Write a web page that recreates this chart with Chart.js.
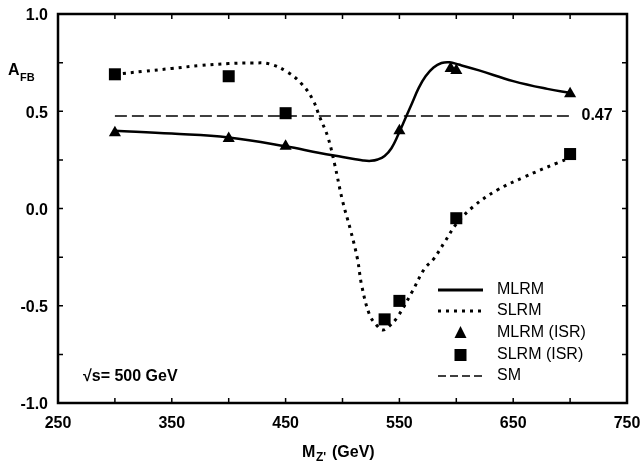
<!DOCTYPE html>
<html>
<head>
<meta charset="utf-8">
<script src="https://cdn.jsdelivr.net/npm/chart.js@4"></script>
<style>
  body { margin: 0; background: #fff; }
  #wrap { width: 641px; height: 462px; }
</style>
</head>
<body>
<div id="wrap"><canvas id="grafico" width="641" height="462"></canvas></div>
<script>
// curvas (M_Z' em GeV, A_FB)
const mlrmX = [300, 350, 400, 450, 480, 500, 510, 518, 525, 531, 537, 543, 549, 555, 561, 567, 573, 580, 587, 594, 602, 620, 650, 680, 700];
const mlrmY = [0.40, 0.385, 0.365, 0.32, 0.285, 0.265, 0.255, 0.247, 0.245, 0.252, 0.27, 0.31, 0.38, 0.46, 0.54, 0.62, 0.68, 0.725, 0.748, 0.752, 0.74, 0.71, 0.655, 0.615, 0.595];

const slrmX = [300, 325, 350, 375, 400, 420, 436, 452, 465, 474, 480, 487, 493, 500, 507, 513, 517, 524, 530, 535, 540, 548, 561, 572, 580, 590, 600, 615, 636, 659, 689, 700];
const slrmY = [0.69, 0.705, 0.72, 0.735, 0.745, 0.748, 0.743, 0.70, 0.635, 0.558, 0.47, 0.37, 0.23, 0.04, -0.11, -0.255, -0.40, -0.55, -0.60, -0.625, -0.61, -0.56, -0.43, -0.31, -0.26, -0.17, -0.08, 0.01, 0.095, 0.16, 0.235, 0.26];

// pontos com ISR
const mlrmIsrX = [300, 400, 450, 550, 595, 600, 700];
const mlrmIsrY = [0.39, 0.36, 0.32, 0.40, 0.72, 0.71, 0.59];
const slrmIsrX = [300, 400, 450, 537, 550, 600, 700];
const slrmIsrY = [0.69, 0.68, 0.49, -0.57, -0.475, -0.05, 0.28];

// SM
const smX = [300, 700];
const smValue = 0.475;
const smLabel = "0.47";

const legendLabels = ["MLRM", "SLRM", "MLRM (ISR)", "SLRM (ISR)", "SM"];

const fonte = '"Liberation Sans", Arial, Helvetica, sans-serif';

function pares(xs, ys) {
  return xs.map((x, i) => ({ x: x, y: ys[i] }));
}

// moldura, ticks internos, títulos e legenda
const extras = {
  id: "extras",
  afterDatasetsDraw(chart) {
    const c = chart.ctx;
    const a = chart.chartArea;
    const sx = chart.scales.x;
    const sy = chart.scales.y;
    c.save();
    c.strokeStyle = "#000";
    c.lineWidth = 1.5;
    c.setLineDash([]);
    // ticks
    sx.ticks.forEach(t => {
      const px = sx.getPixelForValue(t.value);
      c.beginPath();
      c.moveTo(px, a.bottom); c.lineTo(px, a.bottom - 5);
      c.moveTo(px, a.top); c.lineTo(px, a.top + 5);
      c.stroke();
    });
    sy.ticks.forEach(t => {
      const py = sy.getPixelForValue(t.value);
      c.beginPath();
      c.moveTo(a.left, py); c.lineTo(a.left + 5, py);
      c.moveTo(a.right, py); c.lineTo(a.right - 5, py);
      c.stroke();
    });
    // moldura
    c.lineWidth = 2.5;
    c.strokeRect(a.left, a.top, a.right - a.left, a.bottom - a.top);

    c.fillStyle = "#000";
    // rótulo SM
    c.font = "bold 16px " + fonte;
    c.textAlign = "left";
    c.textBaseline = "middle";
    c.fillText(smLabel, sx.getPixelForValue(710), sy.getPixelForValue(smValue) - 1);

    // sqrt(s)
    c.fillText("\u221As= 500 GeV", 83, 377);

    // eixo y: A_FB
    c.textBaseline = "alphabetic";
    c.fillText("A", 8, 75);
    c.font = "bold 11px " + fonte;
    c.fillText("FB", 20, 81);

    // eixo x: M_Z' (GeV)
    c.font = "bold 16px " + fonte;
    c.fillText("M", 302, 457);
    c.font = "bold 12px " + fonte;
    c.fillText("Z'", 316, 461);
    c.font = "bold 16px " + fonte;
    c.fillText("(GeV)", 332, 457);

    // legenda
    const lx0 = 438, lx1 = 483, tx = 497;
    const ly = [290, 311, 333, 355, 376];
    c.lineCap = "butt";
    c.lineWidth = 3;
    c.beginPath(); c.moveTo(lx0, ly[0]); c.lineTo(lx1, ly[0]); c.stroke();
    c.setLineDash([3, 5]);
    c.beginPath(); c.moveTo(lx0, ly[1]); c.lineTo(lx1, ly[1]); c.stroke();
    c.setLineDash([8, 4]);
    c.lineWidth = 1.5;
    c.beginPath(); c.moveTo(lx0, ly[4]); c.lineTo(lx1, ly[4]); c.stroke();
    c.setLineDash([]);
    const mx = (lx0 + lx1) / 2;
    c.beginPath();
    c.moveTo(mx, ly[2] - 7); c.lineTo(mx + 6, ly[2] + 5); c.lineTo(mx - 6, ly[2] + 5);
    c.closePath(); c.fill();
    c.fillRect(mx - 6, ly[3] - 6, 12, 12);

    c.font = "16px " + fonte;
    c.textBaseline = "middle";
    legendLabels.forEach((txt, i) => c.fillText(txt, tx, ly[i]));
    c.restore();
  }
};

const grafico = document.getElementById("grafico");
const ctx = grafico.getContext("2d");

const myChart = new Chart(ctx, {
  type: "scatter",
  data: {
    datasets: [
      {
        label: "SM",
        data: pares(smX, [smValue, smValue]),
        showLine: true,
        borderColor: "#000",
        borderWidth: 1.5,
        borderDash: [12, 5],
        pointRadius: 0,
      },
      {
        label: "MLRM",
        data: pares(mlrmX, mlrmY),
        showLine: true,
        borderColor: "#000",
        borderWidth: 2.5,
        tension: 0.4,
        pointRadius: 0,
      },
      {
        label: "SLRM",
        data: pares(slrmX, slrmY),
        showLine: true,
        borderColor: "#000",
        borderWidth: 3,
        borderDash: [3, 5],
        tension: 0.4,
        pointRadius: 0,
      },
      {
        label: "MLRM (ISR)",
        data: pares(mlrmIsrX, mlrmIsrY),
        pointStyle: "triangle",
        pointRadius: 7,
        backgroundColor: "#000",
        borderColor: "#000",
        borderWidth: 0,
      },
      {
        label: "SLRM (ISR)",
        data: pares(slrmIsrX, slrmIsrY),
        pointStyle: "rect",
        pointRadius: 8.5,
        backgroundColor: "#000",
        borderColor: "#000",
        borderWidth: 0,
      },
    ],
  },
  options: {
    responsive: false,
    animation: false,
    layout: { padding: { top: 14, right: 14, left: 0, bottom: 0 } },
    scales: {
      x: {
        type: "linear",
        min: 250,
        max: 750,
        afterFit: function (scale) {
          scale.height = 59;
          scale.paddingLeft = 0;
          scale.paddingRight = 0;
        },
        grid: { display: false, drawTicks: false },
        border: { display: false },
        ticks: {
          stepSize: 50,
          padding: 11,
          maxRotation: 0,
          autoSkip: false,
          color: "#000",
          font: { family: fonte, size: 16, weight: "bold" },
          callback: function (value) {
            return value % 100 === 50 ? String(value) : "";
          },
        },
      },
      y: {
        min: -1,
        max: 1,
        afterFit: function (scale) {
          scale.width = 58;
          scale.paddingTop = 0;
          scale.paddingBottom = 0;
        },
        grid: { display: false, drawTicks: false },
        border: { display: false },
        ticks: {
          stepSize: 0.25,
          padding: 10,
          labelOffset: 2,
          autoSkip: false,
          color: "#000",
          font: { family: fonte, size: 16, weight: "bold" },
          callback: function (value) {
            const d = value * 2;
            if (Math.abs(d - Math.round(d)) > 1e-6) return "";
            return (Math.abs(value) < 1e-9 ? 0 : value).toFixed(1);
          },
        },
      },
    },
    plugins: {
      legend: { display: false },
      tooltip: { enabled: false },
    },
  },
  plugins: [extras],
});
</script>
</body>
</html>
